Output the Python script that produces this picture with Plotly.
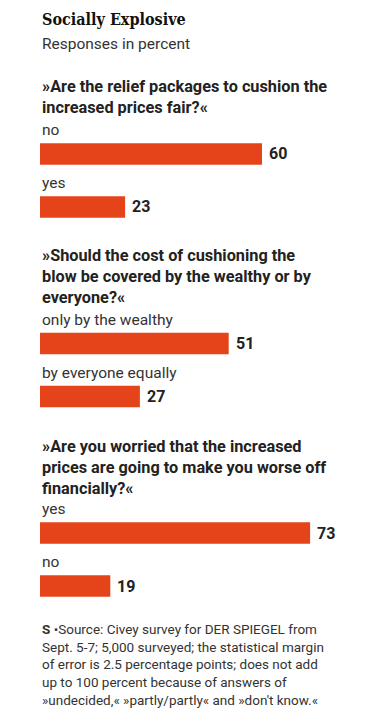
import plotly.graph_objects as go
from plotly.subplots import make_subplots

title = "Socially Explosive"
subtitle = "Responses in percent"
questions = [
    "»Are the relief packages to cushion the<br>increased prices fair?«",
    "»Should the cost of cushioning the<br>blow be covered by the wealthy or by<br>everyone?«",
    "»Are you worried that the increased<br>prices are going to make you worse off<br>financially?«",
]
answers = [["no", "yes"], ["only by the wealthy", "by everyone equally"], ["yes", "no"]]
values = [[60, 23], [51, 27], [73, 19]]
source_lines = [
    "<b>S</b> •Source: Civey survey for DER SPIEGEL from",
    "Sept. 5-7; 5,000 surveyed; the statistical margin",
    "of error is 2.5 percentage points; does not add",
    "up to 100 percent because of answers of",
    "»undecided,« »partly/partly« and »don't know.«",
]

W, H = 381, 719
BAR = "#e5441a"
SANS = "Roboto, Liberation Sans, Arial, sans-serif"
TXT = "#222222"

# pixel spans (top, bottom) of each question's bar block
blocks = [(127.5, 233.5), (317, 423), (506.5, 612.5)]
q_tops = [75, 244, 435]

def py(px):
    return 1 - px / H

fig = make_subplots(rows=3, cols=1)
for i in range(3):
    r = i + 1
    fig.add_trace(go.Bar(x=values[i], y=answers[i], orientation="h",
                         marker=dict(color=BAR, line=dict(width=0)),
                         hoverinfo="skip", showlegend=False), row=r, col=1)
    xa = "xaxis" if i == 0 else f"xaxis{r}"
    ya = "yaxis" if i == 0 else f"yaxis{r}"
    fig.layout[xa].update(range=[0, 341 / 3.7], domain=[0, 1], visible=False, fixedrange=True)
    fig.layout[ya].update(type="category", categoryarray=answers[i], range=[1.5, -0.5],
                          domain=[py(blocks[i][1]), py(blocks[i][0])], visible=False, fixedrange=True)
    xr = "x" if i == 0 else f"x{r}"
    yr = "y" if i == 0 else f"y{r}"
    for a, v in zip(answers[i], values[i]):
        fig.add_annotation(xref=xr, yref=yr, x=0, y=a, text=a, showarrow=False,
                           xanchor="left", yanchor="bottom", yshift=13,
                           font=dict(family=SANS, size=15.5, color="#333333"))
        fig.add_annotation(xref=xr, yref=yr, x=v, y=a, text=f"<b>{v}</b>", showarrow=False,
                           xanchor="left", yanchor="middle", xshift=5,
                           font=dict(family=SANS, size=16, color=TXT))
    fig.add_annotation(xref="paper", yref="paper", x=0, y=py(q_tops[i]), text=f"<b>{questions[i]}</b>",
                       showarrow=False, xanchor="left", yanchor="top", align="left",
                       font=dict(family=SANS, size=16.3, color=TXT))

fig.add_annotation(xref="paper", yref="paper", x=0, y=py(8), text=f"<b>{title}</b>",
                   showarrow=False, xanchor="left", yanchor="top", align="left",
                   font=dict(family="DejaVu Serif Condensed, serif", size=16, color="#111111"))
fig.add_annotation(xref="paper", yref="paper", x=0, y=py(33), text=subtitle,
                   showarrow=False, xanchor="left", yanchor="top", align="left",
                   font=dict(family=SANS, size=15.5, color="#333333"))
for k, line in enumerate(source_lines):
    fig.add_annotation(xref="paper", yref="paper", x=0, y=py(619 + 17.7 * k), text=line,
                       showarrow=False, xanchor="left", yanchor="top", align="left",
                       font=dict(family=SANS, size=13.5, color="#333333"))

fig.update_layout(width=W, height=H, margin=dict(l=40, r=0, t=0, b=0),
                  paper_bgcolor="white", plot_bgcolor="white", bargap=0.594)
fig.write_html("out.html", config={"displayModeBar": False, "staticPlot": True})

with open("out.html", encoding="utf-8") as f:
    html = f.read()
html = html.replace("<body>", '<body style="margin:0;padding:0;overflow:hidden">', 1)
with open("out.html", "w", encoding="utf-8") as f:
    f.write(html)
